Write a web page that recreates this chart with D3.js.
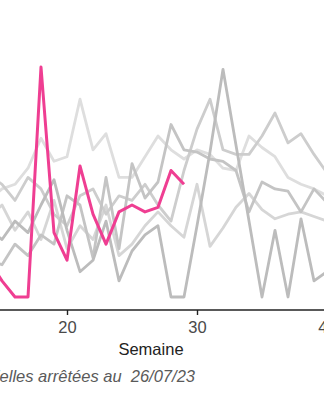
<!DOCTYPE html>
<html>
<head>
<meta charset="utf-8">
<script src="https://cdn.jsdelivr.net/npm/d3@7"></script>
<style>
  html, body { margin: 0; padding: 0; background: #fff; }
  svg { display: block; font-family: "Liberation Sans", Arial, sans-serif; }
</style>
</head>
<body>
<svg id="chart" width="324" height="400"></svg>
<script>
// Weekly values (weeks 14 to 40); the current year stops at week 29.
const weeks = d3.range(14, 41);
const currentWeeks = d3.range(14, 30);
const currentYear = [1.6, 0.7, 0, 0, 10.0, 2.8, 1.6, 5.7, 3.6, 2.3, 3.7, 4.0, 3.7, 3.9, 5.5, 4.9];

// Previous years, drawn in grey
const pastYearA = [4.2, 4.7, 4.9, 5.6, 6.9, 5.9, 6.1, 8.6, 6.4, 7.1, 5.2, 5.2, 6.1, 7.0, 6.4, 6.0, 6.4, 6.2, 5.6, 5.5, 7.0, 6.5, 6.1, 5.2, 4.9, 4.7, 4.4];
const pastYearB = [3.5, 4.0, 2.9, 3.7, 2.5, 4.2, 2.1, 3.1, 2.5, 4.0, 1.8, 2.3, 3.1, 3.7, 3.1, 2.6, 4.9, 2.2, 3.0, 3.9, 4.5, 3.8, 3.4, 3.6, 3.7, 3.5, 3.3];
const pastYearC = [5.3, 4.9, 4.2, 5.2, 4.7, 3.6, 3.1, 4.4, 4.7, 3.6, 4.4, 4.2, 4.9, 4.0, 3.3, 5.5, 7.3, 8.6, 6.4, 6.2, 6.2, 7.0, 8.0, 6.7, 7.1, 6.2, 5.4];
const pastYearD = [1.6, 1.4, 2.3, 1.8, 2.7, 2.3, 4.4, 4.0, 1.7, 5.2, 2.1, 5.8, 4.3, 5.0, 7.5, 6.4, 6.3, 6.0, 5.9, 5.5, 3.7, 5.0, 4.7, 4.6, 3.7, 4.7, 4.1];
const pastYearE = [2.9, 2.5, 3.3, 2.8, 4.0, 5.1, 2.9, 1.1, 1.6, 3.3, 0.7, 2.0, 2.7, 3.1, 0, 0, 3.1, 6.3, 9.9, 6.6, 3.3, 0, 2.9, 0, 3.4, 0.7, 1.1];

const pastColors = ["#dedede", "#d6d6d6", "#cdcdcd", "#c4c4c4", "#bcbcbc"];
const pastYears = [pastYearA, pastYearB, pastYearC, pastYearD, pastYearE];

const xTicks = [20, 30, 40];
const xTitle = "Semaine";
const note = "Données partielles arrêtées au\u00a0 26/07/23";

const svg = d3.select("#chart");

const x = d3.scaleLinear().domain([20, 30]).range([67, 197]);
const y = d3.scaleLinear().domain([0, 10]).range([297, 67]);

const line = d3.line()
  .x(d => x(d[0]))
  .y(d => y(d[1]));

const gLines = svg.append("g");

pastYears.forEach((vals, i) => {
  gLines.append("path")
    .datum(weeks.map((w, j) => [w, vals[j]]))
    .attr("d", line)
    .attr("fill", "none")
    .attr("stroke", pastColors[i])
    .attr("stroke-width", 2.8)
    .attr("stroke-linejoin", "round");
});

gLines.append("path")
  .datum(currentWeeks.map((w, j) => [w, currentYear[j]]))
  .attr("d", line)
  .attr("fill", "none")
  .attr("stroke", "#ef3e92")
  .attr("stroke-width", 3)
  .attr("stroke-linejoin", "round");

// x axis
const axisY = 310;
const axis = svg.append("g")
  .attr("transform", `translate(0,${axisY})`)
  .call(d3.axisBottom(x).tickValues(xTicks).tickFormat(d3.format("d")).tickSize(5).tickPadding(6));

axis.select(".domain").remove();
axis.append("line")
  .attr("x1", -5).attr("x2", 330)
  .attr("stroke", "#222").attr("stroke-width", 1.4);
axis.selectAll(".tick line").attr("stroke", "#222").attr("stroke-width", 1.4);
axis.selectAll(".tick text")
  .attr("fill", "#4a4a4a")
  .style("font-size", "16.5px")
  .style("font-family", "'Liberation Sans', Arial, sans-serif");

svg.append("text")
  .attr("x", 151).attr("y", 355)
  .attr("text-anchor", "middle")
  .attr("fill", "#222")
  .style("font-size", "16.5px")
  .text(xTitle);

svg.append("text")
  .attr("x", 195).attr("y", 382)
  .attr("text-anchor", "end")
  .attr("fill", "#5a5a5a")
  .style("font-size", "16.5px")
  .style("font-style", "italic")
  .text(note);
</script>
</body>
</html>
